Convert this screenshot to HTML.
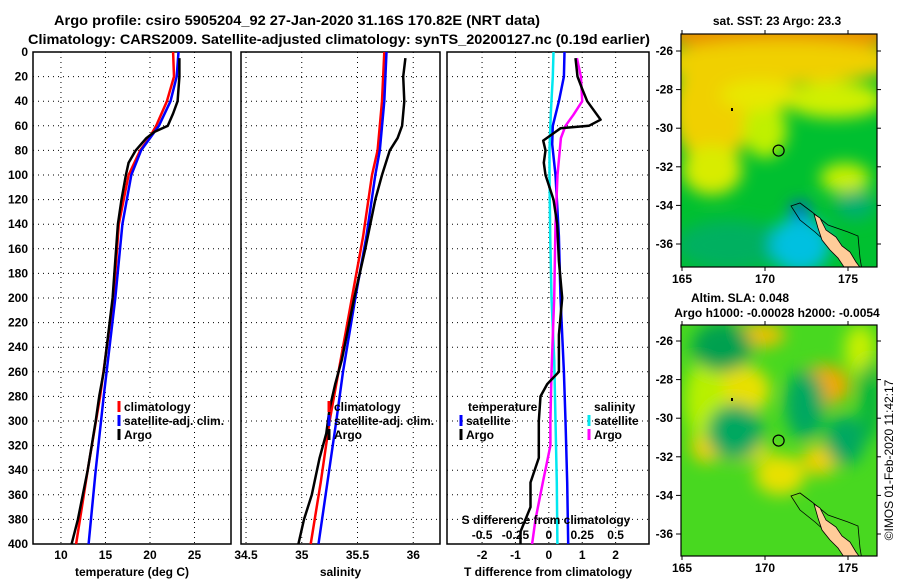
<!DOCTYPE html>
<html><head><meta charset="utf-8"><style>
body{margin:0;background:#fff;}
svg{display:block;font-family:"Liberation Sans",sans-serif;font-weight:bold;}
</style></head><body>
<svg id="c" width="900" height="580" viewBox="0 0 900 580" xmlns="http://www.w3.org/2000/svg">
<defs>
<filter id="bl" filterUnits="userSpaceOnUse" x="600" y="-100" width="360" height="760"><feGaussianBlur stdDeviation="8"/></filter>
<clipPath id="m1c"><rect x="681" y="34" width="196" height="233"/></clipPath>
<clipPath id="m2c"><rect x="681" y="325" width="196" height="231"/></clipPath>
</defs>
<text x="297" y="25" text-anchor="middle" font-size="14" textLength="486" lengthAdjust="spacingAndGlyphs">Argo profile: csiro 5905204_92 27-Jan-2020 31.16S 170.82E (NRT data)</text>
<text x="339" y="44" text-anchor="middle" font-size="14" textLength="622" lengthAdjust="spacingAndGlyphs">Climatology: CARS2009. Satellite-adjusted climatology: synTS_20200127.nc (0.19d earlier)</text>
<g id="maps"></g>
<g id="plots"></g>
</svg>
<script>
// ---- data ----
const depthTicks=[0,20,40,60,80,100,120,140,160,180,200,220,240,260,280,300,320,340,360,380,400];
const tempTicks=[10,15,20,25];
const salTicks=[34.5,35,35.5,36];
const diffTicks=[-2,-1,0,1,2];
const sdiffTickLabels=["-0.5","-0.25","0","0.25","0.5"];
const lonTicks=[165,170,175];
const latTicks=[-26,-28,-30,-32,-34,-36];

const tClimDepth=[0,20,40,60,70,80,100,140,200,280,340,400];
const tClimVal=[22.6,22.7,21.9,20.7,19.9,18.9,17.6,16.5,15.9,14.4,13.0,11.7];
const tSatDepth=[0,20,40,60,70,80,100,140,200,280,340,400];
const tSatVal=[23.2,23.0,22.3,21.0,20.0,19.0,17.9,16.9,16.1,14.8,13.9,13.1];
const tArgoDepth=[5,20,40,50,60,65,70,80,90,100,120,140,200,260,280,300,340,380,400];
const tArgoVal=[23.3,23.3,23.1,22.6,22.0,20.5,19.6,18.4,17.6,17.3,16.8,16.4,15.8,14.8,14.3,13.9,13.0,11.9,11.2];

const sClimDepth=[0,40,80,100,150,200,260,300,350,400];
const sClimVal=[35.74,35.72,35.68,35.63,35.55,35.45,35.33,35.25,35.17,35.08];
const sSatDepth=[0,40,80,100,150,200,260,300,350,400];
const sSatVal=[35.76,35.74,35.70,35.66,35.58,35.48,35.37,35.31,35.23,35.15];
const sArgoDepth=[5,20,40,60,70,80,100,120,160,200,250,270,290,310,330,360,380,400];
const sArgoVal=[35.93,35.91,35.92,35.90,35.86,35.79,35.72,35.66,35.57,35.47,35.36,35.30,35.25,35.22,35.16,35.09,35.02,34.97];

const dTSatDepth=[0,20,40,60,75,100,150,200,260,300,350,400];
const dTSatVal=[0.47,0.45,0.3,0.12,0.1,0.2,0.3,0.35,0.45,0.5,0.55,0.58];
const dSSatDepth=[0,20,50,80,100,150,200,250,300,350,400];
const dSSatVal=[0.035,0.03,0.015,0.005,0.005,0.01,0.02,0.04,0.05,0.06,0.064];
const dTArgoDepth=[5,20,30,40,55,60,62,65,72,80,90,100,120,140,170,200,230,260,270,280,300,330,350,370,390,400];
const dTArgoVal=[0.8,0.86,1.0,1.15,1.55,1.2,0.35,0.2,-0.17,-0.1,-0.15,-0.1,0.14,0.25,0.3,0.4,0.3,0.3,-0.05,-0.25,-0.3,-0.3,-0.55,-0.55,-0.85,-0.85];
const dSArgoDepth=[5,20,40,51,60,70,100,140,200,260,300,320,350,380,400];
const dSArgoVal=[0.21,0.24,0.25,0.185,0.125,0.09,0.065,0.05,0.04,0.02,0.012,0.012,-0.045,-0.1,-0.125];

// ---- helpers ----
const NS="http://www.w3.org/2000/svg";
const plots=document.getElementById('plots');
function el(tag,attrs,parent){const e=document.createElementNS(NS,tag);for(const k in attrs)e.setAttribute(k,attrs[k]);(parent||plots).appendChild(e);return e;}
const Y0=52,Y1=544;
function yD(d){return Y0+(Y1-Y0)*d/400;}
function lin(d0,d1,p0,p1){return v=>p0+(v-d0)*(p1-p0)/(d1-d0);}

const panels=[
 {x0:33,x1:231,sx:lin(6.86,29.1,33,231),ticks:tempTicks,labels:tempTicks.map(String),xlabel:"temperature (deg C)",name:"temperature-panel"},
 {x0:241,x1:440,sx:lin(34.455,36.24,241,440),ticks:salTicks,labels:["34.5","35","35.5","36"],xlabel:"salinity",name:"salinity-panel"},
 {x0:447,x1:649,sx:lin(-3.05,3.0,447,649),ticks:diffTicks,labels:diffTicks.map(String),xlabel:"T difference from climatology",name:"difference-panel"}
];

panels.forEach((p,i)=>{
  const g=el('g',{});
  
  
  depthTicks.forEach(d=>{if(d>0&&d<400){const l=el('line',{x1:p.x0,x2:p.x1,y1:yD(d),y2:yD(d),stroke:'#000','stroke-width':1,'stroke-dasharray':'1,4'},g);}});
  p.ticks.forEach((t,j)=>{const x=p.sx(t);
    const l=el('line',{x1:x,x2:x,y1:Y0,y2:Y1,stroke:'#000','stroke-width':1,'stroke-dasharray':'1,4'},g);
    
    const tx=el('text',{x:x,y:559,'text-anchor':'middle','font-size':12},g);tx.textContent=p.labels[j];
    });
  const r=el('rect',{x:p.x0,y:Y0,width:p.x1-p.x0,height:Y1-Y0,fill:'none',stroke:'#000','stroke-width':1.5},g);
  
  const xl=el('text',{x:(p.x0+p.x1)/2,y:576,'text-anchor':'middle','font-size':12},g);xl.textContent=p.xlabel;
  
});
depthTicks.forEach(d=>{const t=el('text',{x:28,y:yD(d)+4,'text-anchor':'end','font-size':12});t.textContent=d;
  });

function series(p,depths,vals,color,name,scale){
  const pts=depths.map((d,k)=>p.sx(vals[k]*(scale||1)).toFixed(1)+','+yD(d).toFixed(1)).join(' ');
  const l=el('polyline',{points:pts,fill:'none',stroke:color,'stroke-width':2.5,'stroke-linejoin':'round'});
  
  
}
series(panels[0],tClimDepth,tClimVal,'#f00','temp-climatology-line');
series(panels[0],tSatDepth,tSatVal,'#00f','temp-satellite-line');
series(panels[0],tArgoDepth,tArgoVal,'#000','temp-argo-line');
series(panels[1],sClimDepth,sClimVal,'#f00','sal-climatology-line');
series(panels[1],sSatDepth,sSatVal,'#00f','sal-satellite-line');
series(panels[1],sArgoDepth,sArgoVal,'#000','sal-argo-line');
series(panels[2],dSSatDepth,dSSatVal,'#00e8f0','sdiff-satellite-line',4);
series(panels[2],dTSatDepth,dTSatVal,'#00f','tdiff-satellite-line');
series(panels[2],dSArgoDepth,dSArgoVal,'#f0f','sdiff-argo-line',4);
series(panels[2],dTArgoDepth,dTArgoVal,'#000','tdiff-argo-line');

function legend(x,y,color,label,name){
  const m=el('line',{x1:x,x2:x,y1:y-10,y2:y+1,stroke:color,'stroke-width':3});
  
  const t=el('text',{x:x+5,y:y,'font-size':12});t.textContent=label;
  
}
function txt(x,y,s,name,anchor){const t=el('text',{x:x,y:y,'font-size':12,'text-anchor':anchor||'start'});t.textContent=s;
  return t;}
legend(119,411,'#f00','climatology','legend-climatology');
legend(119,425,'#00f','satellite-adj. clim.','legend-satellite');
legend(119,439,'#000','Argo','legend-argo');
legend(329,411,'#f00','climatology','legend2-climatology');
legend(329,425,'#00f','satellite-adj. clim.','legend2-satellite');
legend(329,439,'#000','Argo','legend2-argo');
txt(468,411,'temperature','legend-temperature-heading');
legend(461,425,'#00f','satellite','legend-tdiff-satellite');
legend(461,439,'#000','Argo','legend-tdiff-argo');
txt(594,411,'salinity','legend-salinity-heading');
legend(589,425,'#00e8f0','satellite','legend-sdiff-satellite');
legend(589,439,'#f0f','Argo','legend-sdiff-argo');
txt(546,524,'S difference from climatology','s-diff-axis-title','middle');
diffTicks.forEach((t,j)=>txt(panels[2].sx(t),539,sdiffTickLabels[j],'s-diff-tick-label','middle'));

// ---- maps ----
const maps=document.getElementById('maps');
function mel(tag,attrs,parent){const e=document.createElementNS(NS,tag);for(const k in attrs)e.setAttribute(k,attrs[k]);(parent||maps).appendChild(e);return e;}
const lonX=lin(165,175,682,848);
function drawMap(yoff,clip,bg,blobs,name,top,bot){
  const g=mel('g',{});
  
  const cg=mel('g',{'clip-path':'url(#'+clip+')'},g);
  mel('rect',{x:681,y:top,width:196,height:bot-top,fill:bg},cg);
  const bg2=mel('g',{filter:'url(#bl)'},cg);
  blobs.forEach(b=>mel('ellipse',{cx:b[0],cy:b[1]+yoff,rx:b[2],ry:b[3],fill:b[4]},bg2));
  mel('polygon',{points:[[791,206],[800,203],[812,212],[828,225],[848,232],[858,236],[860,258],[862,270],[848,270],[835,250],[815,232],[800,220]].map(p=>p[0]+','+(p[1]+yoff)).join(' '),fill:'none',stroke:'#000','stroke-width':0.8},cg);
  mel('polygon',{points:[[814,214],[820,218],[826,230],[836,237],[842,246],[850,252],[856,262],[862,270],[846,270],[838,258],[830,250],[822,240],[818,228]].map(p=>p[0]+','+(p[1]+yoff)).join(' '),fill:'#ffcc99',stroke:'#000','stroke-width':0.8},cg);
  mel('rect',{x:681,y:top,width:196,height:bot-top,fill:'none',stroke:'#000','stroke-width':1.2},g);
  const c=mel('circle',{cx:lonX(170.82),cy:51+5.16*19.3+yoff,r:5.5,fill:'none',stroke:'#000','stroke-width':1.2},g);
  
  mel('rect',{x:731,y:108+yoff,width:2,height:3,fill:'#000'},g);
  latTicks.forEach(l=>{const y=51+(-26-l)*19.3+yoff;
    mel('line',{x1:676,x2:681,y1:y,y2:y,stroke:'#000'},g);mel('line',{x1:877,x2:881,y1:y,y2:y,stroke:'#000'},g);
    const t=mel('text',{x:673,y:y+4,'text-anchor':'end','font-size':12},g);t.textContent=l;
    });
  lonTicks.forEach(l=>{const x=lonX(l);
    mel('line',{x1:x,x2:x,y1:bot,y2:bot+4,stroke:'#000'},g);mel('line',{x1:x,x2:x,y1:top-4,y2:top,stroke:'#000'},g);
    const t=mel('text',{x:x,y:bot+16,'text-anchor':'middle','font-size':12},g);t.textContent=l;
    });
}
drawMap(0,'m1c','#00c030',[
 [780,28,130,26,'#e89000'],[780,62,125,22,'#f0d000'],[712,110,40,55,'#f0d000'],[712,170,30,25,'#d8ec00'],
 [835,100,50,18,'#d0f000'],[765,130,22,28,'#c0f000'],[845,178,25,15,'#c8f000'],[760,95,40,15,'#e8e800'],
 [730,245,55,25,'#00b060'],[800,245,30,28,'#00c0e0'],[800,210,10,8,'#0050e0'],[855,205,20,15,'#00b070']
],'sst-map',34,267);
drawMap(290,'m2c','#48d820',[
 [760,45,25,12,'#f0c000'],[740,100,30,25,'#e8e000'],[825,95,25,20,'#f0a800'],[706,155,15,18,'#f0d000'],
 [780,185,25,20,'#e8e000'],[820,170,18,15,'#f0d000'],[742,160,28,12,'#e8e000'],[705,110,20,40,'#b8f000'],[860,60,15,25,'#c8f000'],
 [722,57,30,25,'#00a050'],[735,142,28,28,'#00a860'],[805,115,20,35,'#00a860'],[845,150,20,25,'#00a860'],[870,110,10,40,'#00b040']
],'sla-map',325,556);
function mtxt(x,y,s,name){const t=mel('text',{x:x,y:y,'font-size':12,'text-anchor':'middle'});t.textContent=s;
  }
mtxt(777,25,'sat. SST: 23 Argo: 23.3','sst-map-title');
mtxt(740,302,'Altim. SLA: 0.048','sla-map-title');
mtxt(777,317,'Argo h1000: -0.00028 h2000: -0.0054','sla-map-subtitle');
const ts=mel('text',{x:0,y:0,'font-size':12,'text-anchor':'middle',transform:'translate(893,460) rotate(-90)',"font-weight":"normal"});
ts.textContent='©IMOS 01-Feb-2020 11:42:17';

</script>
</body></html>
